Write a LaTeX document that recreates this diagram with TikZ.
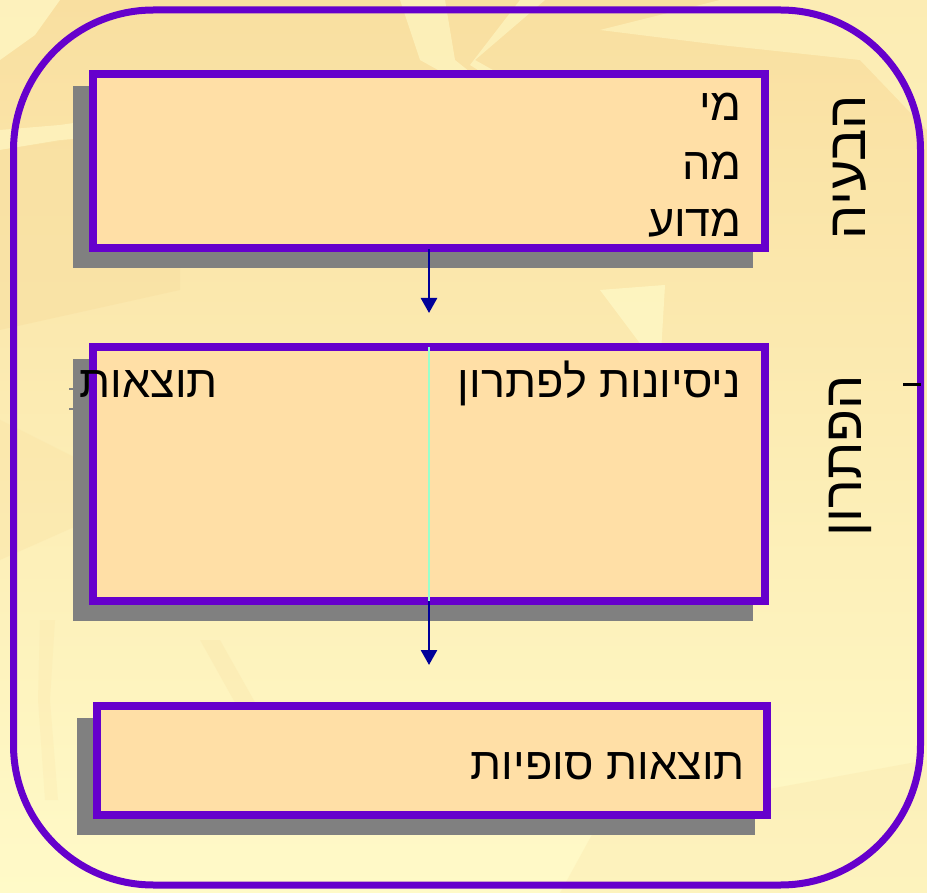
\documentclass[tikz,border=0pt]{standalone}
\usepackage{fontspec}
\usetikzlibrary{arrows.meta,backgrounds}
\TeXXeTstate=1
\newfontfamily\hebfont[Script=Hebrew]{Liberation Sans}
\pgfdeclarelayer{texture}
\pgfsetlayers{texture,background,main}
\definecolor{purp}{HTML}{6600CC}
\definecolor{boxfill}{HTML}{FFDFA6}
\definecolor{shadowgray}{HTML}{808080}
\definecolor{navy}{HTML}{000099}
\definecolor{aqua}{HTML}{99FFCC}
\definecolor{bgtan}{HTML}{F9DFA0}
\definecolor{bgmid}{HTML}{FCEBB3}
\definecolor{bglight}{HTML}{FFFAC8}
\definecolor{bgpale}{HTML}{FEF4C0}
\tikzset{
  panel/.style={draw=purp, line width=8pt, fill=boxfill, inner sep=0pt},
  txt/.style={font=\hebfont\fontsize{45}{52}\selectfont, inner sep=0pt, text=black},
  vtxt/.style={font=\hebfont\fontsize{54}{60}\selectfont, inner sep=0pt, text=black, rotate=90},
  conn/.style={navy, line width=2.7pt, -{Triangle[width=16pt,length=15pt]}},
  frame/.style={draw=purp, line width=7pt, rounded corners=140pt}
}
\begin{document}
\begin{tikzpicture}[x=1pt,y=-1pt]
\useasboundingbox (0,0) rectangle (927,893);
% background texture
\begin{pgfonlayer}{texture}
\shade[top color=bgtan, middle color=bgmid, bottom color=bglight] (0,0) rectangle (927,893);
\fill[bglight, opacity=0.7] (0,0) -- (60,0) -- (35,35) -- (0,60) -- cycle;
\fill[bglight, opacity=0.6] (400,0) -- (445,0) -- (455,60) -- (480,80) -- (505,130) -- (490,130) -- (465,85) -- (420,60) -- cycle;
\fill[bglight, opacity=0.6] (520,0) -- (545,0) -- (475,60) -- (600,130) -- (580,135) -- (470,65) -- cycle;
\fill[bglight, opacity=0.5] (600,30) -- (720,0) -- (927,0) -- (927,130) -- (860,60) -- (720,45) -- cycle;
\fill[bglight, opacity=0.6] (0,130) -- (60,125) -- (130,115) -- (130,135) -- (60,140) -- (0,150) -- cycle;
\fill[bgtan, opacity=0.5] (0,150) -- (100,135) -- (180,110) -- (180,290) -- (0,330) -- cycle;
\fill[bgtan, opacity=0.3] (0,420) -- (60,450) -- (100,470) -- (90,520) -- (0,560) -- cycle;
\fill[bgtan, opacity=0.25] (200,640) -- (220,640) -- (310,800) -- (295,810) -- cycle;
\fill[bgtan, opacity=0.2] (40,620) -- (55,620) -- (50,700) -- (58,800) -- (45,800) -- (38,700) -- cycle;
\fill[bglight, opacity=0.7] (600,290) -- (665,285) -- (660,370) -- cycle;
\fill[bgtan, opacity=0.25] (600,820) -- (927,760) -- (927,893) -- (560,893) -- cycle;
\end{pgfonlayer}
% outer frame
\draw[frame] (13.5,10) rectangle (920.5,885);
% panels
\node[panel, minimum width=672pt, minimum height=174pt] (b1) at (429,161) {};
\node[panel, minimum width=672pt, minimum height=254pt] (b2) at (429,474) {};
\node[panel, minimum width=670pt, minimum height=109pt] (b3) at (432,760.5) {};
\begin{pgfonlayer}{background}
\foreach \b in {b1,b2,b3}
  \fill[shadowgray] ([shift={(-16,16)}]\b.north west) rectangle ([shift={(-16,16)}]\b.south east);
\end{pgfonlayer}
% texts
\node[txt, anchor=base east] (t11) at (742,121) {\beginR מי\endR};
\node[txt, anchor=base east] (t12) at (742,180) {\beginR מה\endR};
\node[txt, anchor=base east] (t13) at (742,237) {\beginR מדוע\endR};
\node[txt, anchor=base east] (t21) at (741,398) {\beginR ניסיונות לפתרון\endR};
\node[txt, anchor=base east] (t22) at (218,398) {\beginR תוצאות\endR};
\node[txt, anchor=base east] (t31) at (745,779) {\beginR תוצאות סופיות\endR};
\node[vtxt] (v1) at (850,167) {\beginR הבעיה\endR};
\node[vtxt] (v2) at (850,456) {\beginR הפתרון\endR};
% separator in second panel
\draw[aqua, line width=2.5pt] ([yshift=-4pt]b2.north) -- ([yshift=4pt]b2.south);
% connectors
\coordinate (a1) at (429,313);
\coordinate (a2) at (429,665);
\draw[conn] ([yshift=3pt]b1.south) -- (a1);
\draw[conn] ([yshift=4pt]b2.south) -- (a2);
% small marks
\draw[black, line width=3pt] (903,385) -- (921,385);
\draw[shadowgray, line width=2.5pt] (69,389) -- (74,389);
\draw[shadowgray, line width=2.5pt] (69,409) -- (74,409);
\end{tikzpicture}
\end{document}
